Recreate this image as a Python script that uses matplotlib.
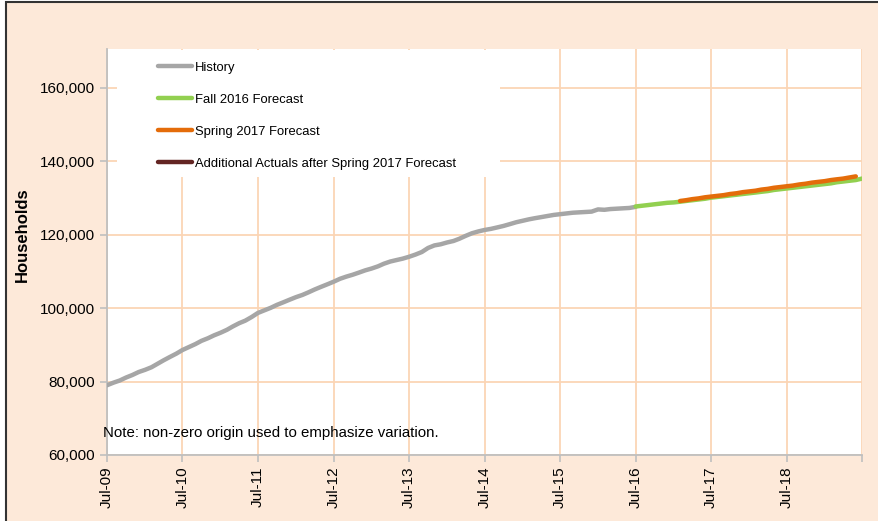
import matplotlib
matplotlib.use("Agg")
import matplotlib.pyplot as plt
import matplotlib.dates as mdates
import matplotlib.ticker as mticker
from matplotlib.patches import Rectangle
import pandas as pd

plt.rcParams["font.family"] = ["Liberation Sans", "DejaVu Sans"]

# monthly households, Jul-09 .. Jul-16 (thousands)
history = [
    79.0, 79.7, 80.3, 81.1, 81.8, 82.6, 83.2, 83.9, 84.8, 85.8, 86.7, 87.6,
    88.6, 89.4, 90.2, 91.1, 91.8, 92.6, 93.3, 94.1, 95.0, 95.9, 96.6, 97.6,
    98.7, 99.4, 100.1, 100.9, 101.6, 102.3, 103.0, 103.6, 104.3, 105.1, 105.8, 106.5,
    107.2, 108.0, 108.6, 109.1, 109.7, 110.3, 110.8, 111.4, 112.1, 112.7, 113.1, 113.5,
    114.0, 114.6, 115.3, 116.4, 117.1, 117.4, 117.9, 118.3, 118.9, 119.7, 120.4, 120.9,
    121.3, 121.6, 122.0, 122.4, 122.9, 123.4, 123.8, 124.2, 124.5, 124.8, 125.1, 125.4,
    125.6, 125.8, 126.0, 126.1, 126.2, 126.3, 126.9, 126.8, 127.0, 127.1, 127.2, 127.3,
    127.6,
]
# Fall 2016 forecast, Jul-16 .. Jul-19
fall_2016 = [
    127.7, 127.9, 128.1, 128.3, 128.5, 128.7, 128.8, 129.0,
    129.2, 129.4, 129.6, 129.8, 130.1, 130.3, 130.5, 130.7, 130.9, 131.1,
    131.3, 131.5, 131.7, 131.9, 132.2, 132.4, 132.6, 132.8, 133.0, 133.2,
    133.4, 133.6, 133.8, 134.0, 134.3, 134.5, 134.7, 134.9, 135.3,
]
# Spring 2017 forecast, Feb-17 .. Jul-19
spring_2017 = [
    129.2, 129.4, 129.7, 129.9, 130.2, 130.4, 130.6, 130.8, 131.1, 131.3,
    131.6, 131.8, 132.0, 132.3, 132.5, 132.8, 133.0, 133.2, 133.4, 133.7,
    133.9, 134.2, 134.4, 134.6, 134.9, 135.1, 135.3, 135.6, 135.9,
]
additional_actuals = []

hist_dates = pd.date_range("2009-07-01", periods=len(history), freq="MS")
fall_dates = pd.date_range("2016-07-01", periods=len(fall_2016), freq="MS")
spring_dates = pd.date_range("2017-02-01", periods=len(spring_2017), freq="MS")
add_dates = pd.date_range("2017-02-01", periods=len(additional_actuals), freq="MS")

bg = "#FDE9D9"
grid = "#FBD5B5"

fig = plt.figure(figsize=(8.79, 5.21), dpi=100, facecolor="white")
frame = Rectangle((6 / 879, -0.1), 1.2, 1.1 - 2 / 521, transform=fig.transFigure,
                  facecolor=bg, edgecolor="#333333", linewidth=1.5, zorder=-10)
fig.patches.append(frame)
ax = fig.add_axes([107 / 879, 1 - 455 / 521, (862 - 107) / 879, (455 - 49) / 521])
ax.set_facecolor("white")

ax.plot(hist_dates, [v * 1000 for v in history], color="#A6A6A6", lw=3.2,
        solid_capstyle="round", label="History", zorder=3)
ax.plot(fall_dates, [v * 1000 for v in fall_2016], color="#92D050", lw=3.2,
        solid_capstyle="round", label="Fall 2016 Forecast", zorder=3)
ax.plot(spring_dates, [v * 1000 for v in spring_2017], color="#E46C0A", lw=3.2,
        solid_capstyle="round", label="Spring 2017 Forecast", zorder=4)
ax.plot(add_dates, [v * 1000 for v in additional_actuals], color="#632523", lw=3.2,
        solid_capstyle="round", label="Additional Actuals after Spring 2017 Forecast", zorder=5)

ax.set_xlim(pd.Timestamp("2009-07-01"), pd.Timestamp("2019-07-01"))
ax.set_ylim(60000, 170600)
ax.xaxis.set_major_locator(mdates.MonthLocator(bymonth=7))
ax.xaxis.set_major_formatter(mticker.FuncFormatter(
    lambda v, p: "" if mdates.num2date(v).year >= 2019 else mdates.num2date(v).strftime("%b-%y")))
ax.yaxis.set_major_locator(mticker.MultipleLocator(20000))
ax.yaxis.set_major_formatter(mticker.FuncFormatter(lambda v, p: f"{v:,.0f}"))
ax.grid(True, color=grid, lw=1.3, zorder=0)
ax.set_axisbelow(True)

for s in ["top", "right"]:
    ax.spines[s].set_visible(False)
for s in ["left", "bottom"]:
    ax.spines[s].set_color("#BFBFBF")
    ax.spines[s].set_linewidth(1.3)
ax.tick_params(axis="both", colors="#BFBFBF", length=5, width=1.2, labelcolor="black",
               labelsize=11)
ax.tick_params(axis="x", rotation=90, pad=3)

fig.text(22 / 879, 1 - 235 / 521, "Households", rotation=90, fontsize=12, fontweight="bold",
         ha="center", va="center")
ax.text(103 / 879, 1 - 433 / 521, "Note: non-zero origin used to emphasize variation.",
        transform=fig.transFigure, fontsize=10.8, ha="left", va="center", zorder=7)

# white legend area covering the gridlines
ax.add_patch(Rectangle((10 / 755, 1 - 128 / 406), (500 - 117) / 755, 127 / 406,
                       transform=ax.transAxes, facecolor="white", edgecolor="none", zorder=2))
leg = ax.legend(loc="upper left", bbox_to_anchor=(152 / 879, 1 - 56 / 521),
                bbox_transform=fig.transFigure, frameon=False,
                fontsize=9.4, handlelength=2.65, handletextpad=0.2, labelspacing=1.52,
                borderpad=0.45, borderaxespad=0)
leg.set_zorder(6)

fig.savefig("out.png", dpi=100, facecolor="white")
